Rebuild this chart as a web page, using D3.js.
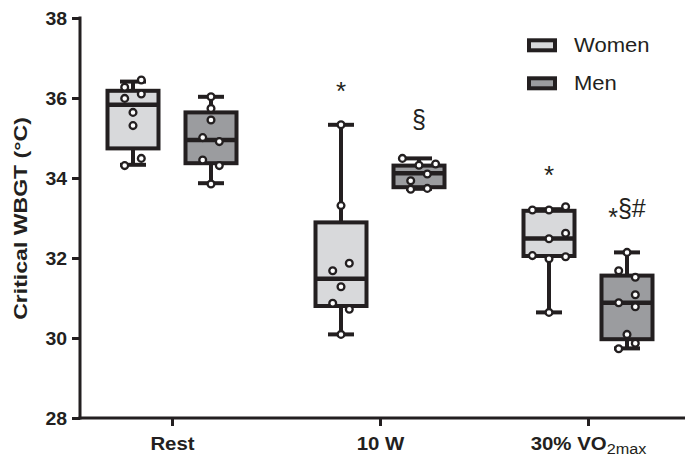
<!DOCTYPE html>
<html>
<head>
<meta charset="utf-8">
<script src="https://cdn.jsdelivr.net/npm/d3@7"></script>
<style>
  html, body { margin: 0; padding: 0; background: #fff; }
  svg { display: block; font-family: "Liberation Sans", Arial, Helvetica, sans-serif; }
</style>
</head>
<body>
<div id="chart"></div>
<script>
// ---------- data ----------
const categories = ["Rest", "10 W", "30% VO2max"];
const groups = ["Women", "Men"];
const yTicks = [28, 30, 32, 34, 36, 38];

// box stats per category: [min, q1, median, q3, max]
const womenStats = [
  [34.33, 34.74, 35.83, 36.18, 36.41],
  [30.09, 30.80, 31.48, 32.89, 35.33],
  [30.64, 32.05, 32.49, 33.18, 33.22]
];
const menStats = [
  [33.87, 34.37, 34.95, 35.64, 36.03],
  [33.73, 33.77, 34.12, 34.31, 34.49],
  [29.74, 29.97, 30.88, 31.56, 32.14]
];

// individual values per category
const womenValues = [
  [36.45, 36.27, 36.10, 35.99, 35.64, 35.31, 34.49, 34.31],
  [35.33, 33.31, 31.87, 31.68, 31.28, 30.87, 30.72, 30.09],
  [33.20, 33.20, 33.28, 32.62, 32.48, 32.06, 31.98, 32.03, 30.64]
];
const menValues = [
  [36.03, 35.74, 35.45, 35.01, 34.91, 34.45, 34.31, 33.85],
  [34.49, 34.32, 34.35, 34.10, 33.93, 33.72, 33.74],
  [32.14, 31.68, 31.52, 31.08, 30.88, 30.78, 30.09, 29.87, 29.73]
];
// scatter lane of each point (swarm column)
const womenLanes = [
  [1, -1, 1, -1, 0, 0, 1, -1],
  [0, 0, 1, -1, 0, -1, 1, 0],
  [-2, 0, 2, 2, 0, -2, 0, 2, 0]
];
const menLanes = [
  [0, 0, 0, -1, 1, -1, 1, 0],
  [-2, 0, 2, 1, -1, -1, 1],
  [0, -1, 1, 1, -1, 1, 0, 1, -1]
];
// significance marks per category
const womenMarks = ["", "*", "*"];
const menMarks = ["", "§", "*§#"];
const groupFill = ["#d8d9db", "#9b9c9f"];

// ---------- drawing ----------
const W = 685, H = 459;
const ink = "#231f20";
const svg = d3.select("#chart").append("svg").attr("width", W).attr("height", H);

const y = d3.scaleLinear().domain([28, 38]).range([418, 18]);
const x = d3.scalePoint().domain(categories).range([68, 692]).padding(0.5);
const gx = d3.scaleBand().domain(groups).range([-78, 78]);
const boxW = 51, capW = 26, laneW = 8.3;

// text helper with horizontal stretch (font in source is wider than Arial)
function stretchedText(parent, tx, ty, sx, rotate) {
  return parent.append("text")
    .attr("transform", `translate(${tx},${ty})` + (rotate ? ` rotate(${rotate})` : "") + ` scale(${sx},1)`)
    .attr("fill", ink);
}

// y axis
const yAxis = svg.append("g").attr("transform", "translate(80,0)")
  .call(d3.axisLeft(y).tickValues(yTicks).tickFormat("").tickSize(8).tickSizeOuter(0));
yAxis.select(".domain").remove();
yAxis.selectAll(".tick line").attr("stroke", ink).attr("stroke-width", 3);
yAxis.selectAll(".tick").each(function(d) {
  stretchedText(d3.select(this), -13, 6.5, 1.08)
    .attr("text-anchor", "end").attr("font-size", 18).attr("font-weight", "bold").text(d);
});
svg.append("line").attr("x1", 80).attr("x2", 80).attr("y1", y(38) - 1.5).attr("y2", y(28) + 1.5)
  .attr("stroke", ink).attr("stroke-width", 3);

// x axis
const xAxis = svg.append("g").attr("transform", "translate(0,418)")
  .call(d3.axisBottom(x).tickSize(8).tickSizeOuter(0).tickFormat(""));
xAxis.select(".domain").remove();
xAxis.selectAll(".tick line").attr("stroke", ink).attr("stroke-width", 3);
svg.append("line").attr("x1", 78.5).attr("x2", 685).attr("y1", 418).attr("y2", 418)
  .attr("stroke", ink).attr("stroke-width", 3);

xAxis.selectAll(".tick").each(function(d) {
  const t = stretchedText(d3.select(this), 0, 32, 1.16)
    .attr("text-anchor", "middle").attr("font-size", 17.6).attr("font-weight", "bold");
  const m = d.match(/^(.*VO)2max$/);
  if (m) {
    t.append("tspan").text(m[1]);
    t.append("tspan").text("2max").attr("font-size", 14).attr("font-weight", "normal").attr("dy", 3.5);
  } else {
    t.text(d);
  }
});

// y title
stretchedText(svg, 26.5, 218.5, 1.215, -90)
  .attr("text-anchor", "middle").attr("font-size", 19).attr("font-weight", "bold")
  .text("Critical WBGT (°C)");

// boxes
const statsBy = [womenStats, menStats];
const valuesBy = [womenValues, menValues];
const lanesBy = [womenLanes, menLanes];
const marksBy = [womenMarks, menMarks];

groups.forEach((g, gi) => {
  categories.forEach((c, ci) => {
    const cx = x(c) + gx(g) + gx.bandwidth() / 2;
    const [mn, q1, md, q3, mx] = statsBy[gi][ci];
    const gg = svg.append("g");
    // whiskers
    gg.append("line").attr("x1", cx).attr("x2", cx).attr("y1", y(mx)).attr("y2", y(q3))
      .attr("stroke", ink).attr("stroke-width", 4);
    gg.append("line").attr("x1", cx).attr("x2", cx).attr("y1", y(q1)).attr("y2", y(mn))
      .attr("stroke", ink).attr("stroke-width", 4);
    [mn, mx].forEach(v => gg.append("line").attr("x1", cx - capW / 2).attr("x2", cx + capW / 2)
      .attr("y1", y(v)).attr("y2", y(v)).attr("stroke", ink).attr("stroke-width", 4));
    // box
    gg.append("rect").attr("x", cx - boxW / 2).attr("y", y(q3)).attr("width", boxW)
      .attr("height", y(q1) - y(q3)).attr("fill", groupFill[gi]).attr("stroke", ink).attr("stroke-width", 4);
    gg.append("line").attr("x1", cx - boxW / 2).attr("x2", cx + boxW / 2)
      .attr("y1", y(md)).attr("y2", y(md)).attr("stroke", ink).attr("stroke-width", 4.5);
    // points
    valuesBy[gi][ci].forEach((v, i) => {
      gg.append("circle").attr("cx", cx + lanesBy[gi][ci][i] * laneW).attr("cy", y(v)).attr("r", 3.4)
        .attr("fill", "#fff").attr("stroke", ink).attr("stroke-width", 2.3);
    });
    // significance marks
    const mk = marksBy[gi][ci];
    if (mk) {
      const top = y(mx);
      if (mk === "*") {
        svg.append("text").attr("x", cx).attr("y", top - 25).attr("text-anchor", "middle")
          .attr("fill", ink).attr("font-size", 26).text("*");
      } else if (mk === "§") {
        svg.append("text").attr("x", cx).attr("y", top - 30).attr("text-anchor", "middle")
          .attr("fill", ink).attr("font-size", 25).text("§");
      } else {
        const t = svg.append("text").attr("x", cx).attr("y", top - 35.5).attr("text-anchor", "middle")
          .attr("fill", ink).attr("font-size", 25);
        t.append("tspan").text(mk[0]).attr("dy", 9.5);
        t.append("tspan").text(mk.slice(1)).attr("dy", -9.5);
      }
    }
  });
});

// legend
const legend = svg.append("g");
groups.forEach((g, gi) => {
  const ly = 45.3 + gi * 38;
  legend.append("rect").attr("x", 529).attr("y", ly - 5).attr("width", 26).attr("height", 10)
    .attr("fill", groupFill[gi]).attr("stroke", ink).attr("stroke-width", 4);
  stretchedText(legend, 574, ly + 7, 1.13).attr("font-size", 19.5).text(g);
});
</script>
</body>
</html>
